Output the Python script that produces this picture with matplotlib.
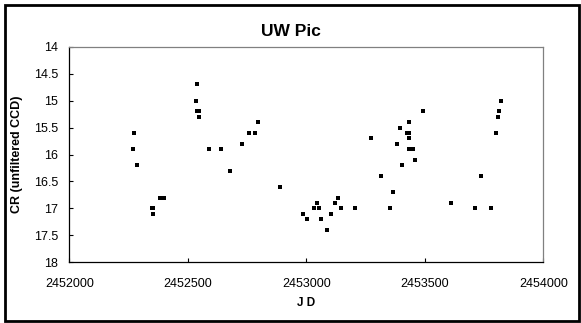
import matplotlib
matplotlib.use("Agg")
import matplotlib.pyplot as plt
from matplotlib.patches import Rectangle

plt.rcParams['font.family'] = ['Liberation Sans', 'DejaVu Sans']

# -------------------------
# Data
# -------------------------

jd = [
    2452274, 2452267, 2452285, 2452347, 2452354, 2452352, 2452382, 2452398,
    2452540, 2452536, 2452540, 2452547, 2452549, 2452591, 2452642, 2452677,
    2452728, 2452760, 2452783, 2452798, 2452889, 2452984, 2453001, 2453032,
    2453045, 2453053, 2453062, 2453088, 2453105, 2453119, 2453135, 2453147,
    2453207, 2453274, 2453317, 2453353, 2453367, 2453382, 2453394, 2453404,
    2453423, 2453434, 2453433, 2453433, 2453434, 2453451, 2453459, 2453493,
    2453611, 2453712, 2453736, 2453779, 2453799, 2453808, 2453814, 2453821,
]
cr = [
    15.6, 15.9, 16.2, 17.0, 17.0, 17.1, 16.8, 16.8,
    14.7, 15.0, 15.2, 15.2, 15.3, 15.9, 15.9, 16.3,
    15.8, 15.6, 15.6, 15.4, 16.6, 17.1, 17.2, 17.0,
    16.9, 17.0, 17.2, 17.4, 17.1, 16.9, 16.8, 17.0,
    17.0, 15.7, 16.4, 17.0, 16.7, 15.8, 15.5, 16.2,
    15.6, 15.6, 15.4, 15.7, 15.9, 15.9, 16.1, 15.2,
    16.9, 17.0, 16.4, 17.0, 15.6, 15.3, 15.2, 15.0,
]

y_ticks = [14, 14.5, 15, 15.5, 16, 16.5, 17, 17.5, 18]
x_ticks = [2452000, 2452500, 2453000, 2453500, 2454000]

# -------------------------
# Plot
# -------------------------

fig = plt.figure(figsize=(5.81, 3.23), dpi=100)
ax = fig.add_axes([69.3 / 581, 1 - 262.3 / 323, (543.3 - 69.3) / 581, (262.3 - 46.7) / 323])

ax.plot(jd, cr, 's', color='black', markersize=2.2, markeredgewidth=0)

ax.set_xlim(2452000, 2454000)
ax.set_ylim(18, 14)
ax.set_xticks(x_ticks)
ax.set_xticklabels([str(t) for t in x_ticks])
ax.set_yticks(y_ticks)
ax.set_yticklabels(['%g' % t for t in y_ticks])

ax.tick_params(axis='both', direction='in', length=3, width=0.8, labelsize=9,
               colors='black')
ax.tick_params(axis='y', pad=8)
ax.tick_params(axis='x', pad=11)

for side in ['top', 'right']:
    ax.spines[side].set_color('#808080')
    ax.spines[side].set_linewidth(0.9)
for side in ['left', 'bottom']:
    ax.spines[side].set_color('black')
    ax.spines[side].set_linewidth(0.9)

# title is centred on the whole chart, not on the plot area
fig.text(0.5, 1 - 36 / 323, "UW Pic", fontsize=12.5, fontweight='bold',
         ha='center', va='baseline')
ax.set_xlabel("J D", fontsize=8.5, fontweight='bold', labelpad=5)
ax.set_ylabel("CR (unfiltered CCD)", fontsize=9, fontweight='bold')
ax.yaxis.set_label_coords(-0.097, 0.5)

# outer chart border
fig.patches.append(Rectangle((5 / 581, 2 / 323), 574 / 581, 316 / 323,
                             transform=fig.transFigure, fill=False,
                             edgecolor='black', linewidth=2))

fig.savefig("out.png", dpi=100)
